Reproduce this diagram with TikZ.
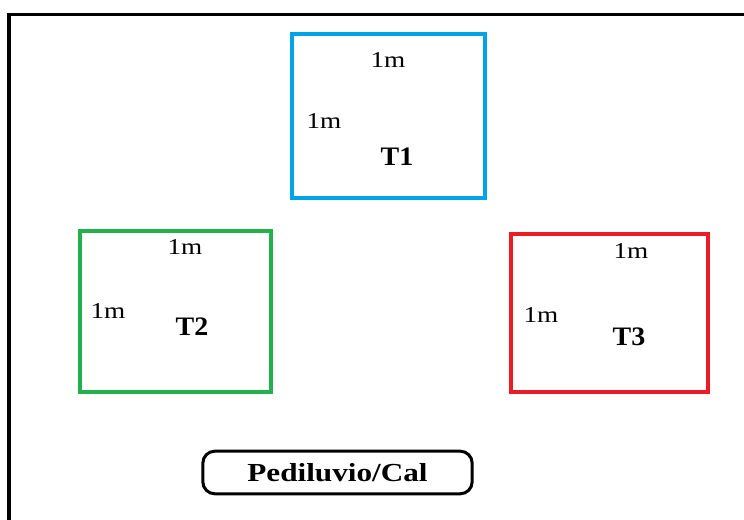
\documentclass[tikz,border=0pt]{standalone}
\usepackage{fontspec}
\setmainfont{Liberation Serif}
\newfontfamily\labfont[FakeStretch=1.2]{Liberation Serif}
\newfontfamily\tfont[FakeStretch=1.05]{Liberation Serif}
\newfontfamily\dimfont[FakeStretch=1.2]{Liberation Serif}
\definecolor{pblue}{RGB}{0,162,232}
\definecolor{pgreen}{RGB}{34,177,76}
\definecolor{pred}{RGB}{237,28,36}
\tikzset{
  plot/.style={draw=#1, line width=3pt, inner sep=0pt, outer sep=0pt, anchor=north west},
  dimlabel/.style={font=\dimfont\fontsize{17}{17}\selectfont, inner sep=0pt},
  tlabel/.style={font=\tfont\bfseries\fontsize{20}{20}\selectfont, inner sep=0pt},
  footbox/.style={draw, line width=2.25pt, rounded corners=9pt, inner sep=0pt,
    minimum width=202pt, minimum height=32pt,
    font=\labfont\bfseries\fontsize{19.5}{19.5}\selectfont}
}
\begin{document}
\begin{tikzpicture}[x=0.75pt,y=-0.75pt]
\useasboundingbox (0,0) rectangle (744,520);
\fill[white] (0,0) rectangle (744,520);
% outer frame
\coordinate (fb) at (9,521);
\coordinate (fc) at (9,14.5);
\coordinate (fr) at (745,14.5);
\draw[line width=2.4pt] (fb) -- (fc) -- (fr);
% plots
\node[plot=pblue, minimum width=193*0.75pt, minimum height=164*0.75pt] (t1box) at (292,34) {};
\node[plot=pgreen, minimum width=191*0.75pt, minimum height=161*0.75pt] (t2box) at (80,231) {};
\node[plot=pred, minimum width=197*0.75pt, minimum height=158*0.75pt] (t3box) at (511,234) {};
% labels T1
\node[dimlabel] (t1top) at (388,60) {1m};
\node[dimlabel] (t1left) at (324,121) {1m};
\node[tlabel] (t1) at (397,157) {T1};
% labels T2
\node[dimlabel] (t2top) at (185,247) {1m};
\node[dimlabel] (t2left) at (108,311) {1m};
\node[tlabel] (t2) at (192,327) {T2};
% labels T3
\node[dimlabel] (t3top) at (631,251) {1m};
\node[dimlabel] (t3left) at (541,315) {1m};
\node[tlabel] (t3) at (629,337) {T3};
% footbath
\node[footbox] (ped) at (337.5,472.5) {Pediluvio/Cal};
\end{tikzpicture}
\end{document}
